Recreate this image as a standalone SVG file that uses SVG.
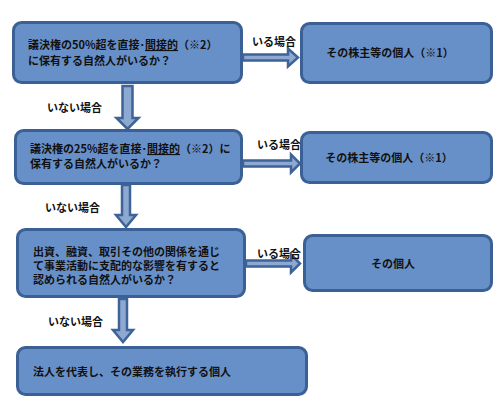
<svg xmlns="http://www.w3.org/2000/svg" width="499" height="409" viewBox="0 0 499 409">
<style>
.box{fill:#6890c8;stroke:#3b6096;stroke-width:3}
.arr{fill:#8ea9d1;stroke:#3d6398;stroke-width:2.5;stroke-linejoin:miter}
text{font-family:"Noto Sans CJK JP","Noto Sans",sans-serif;font-size:11px;font-weight:bold;fill:#111}
.u{text-decoration:underline}
</style>
<rect width="499" height="409" fill="#fff"/>
<g id="connectors">
<polygon class="arr" points="243,54.5 288,54.5 288,48.5 298,57.5 288,66.5 288,60.5 243,60.5"/>
<polygon class="arr" points="243,160.5 291,160.5 291,154.5 300,163.5 291,172.5 291,166.5 243,166.5"/>
<polygon class="arr" points="246,260.5 291,260.5 291,254.5 300,263.5 291,272.5 291,266.5 246,266.5"/>
<polygon class="arr" points="122.5,86 132.5,86 132.5,118 138.5,118 127.5,129 116.5,118 122.5,118"/>
<polygon class="arr" points="122,185 130,185 130,215 136,215 126,227 116,215 122,215"/>
<polygon class="arr" points="119,299 127,299 127,330 133,330 123,342 113,330 119,330"/>
<text x="252" y="46">いる場合</text>
<text x="257" y="149">いる場合</text>
<text x="257" y="258">いる場合</text>
<text x="47" y="112">いない場合</text>
<text x="45" y="212">いない場合</text>
<text x="48" y="326">いない場合</text>
</g>
<g id="q1">
<rect class="box" x="13.5" y="22.5" width="228" height="60" rx="8"/>
<text x="28" y="49">議決権の50%超を直接･<tspan class="u">間接的</tspan>（※2）</text>
<text x="28" y="65">に保有する自然人がいるか？</text>
</g>
<g id="a1">
<rect class="box" x="301.5" y="23.5" width="190" height="59" rx="8"/>
<text x="390" y="57" text-anchor="middle">その株主等の個人（※1）</text>
</g>
<g id="q2">
<rect class="box" x="15.5" y="130.5" width="226" height="53" rx="8"/>
<text x="30" y="153">議決権の25%超を直接･<tspan class="u">間接的</tspan>（※2）に</text>
<text x="30" y="168">保有する自然人がいるか？</text>
</g>
<g id="a2">
<rect class="box" x="301.5" y="132.5" width="190" height="50" rx="8"/>
<text x="389" y="162" text-anchor="middle">その株主等の個人（※1）</text>
</g>
<g id="q3">
<rect class="box" x="17.5" y="229.5" width="227" height="67" rx="8"/>
<text x="33" y="255.5">出資、融資、取引その他の関係を通じ</text>
<text x="33" y="269.5">て事業活動に支配的な影響を有すると</text>
<text x="33" y="283.5">認められる自然人がいるか？</text>
</g>
<g id="a3">
<rect class="box" x="304.5" y="235.5" width="187" height="55" rx="8"/>
<text x="393" y="268" text-anchor="middle">その個人</text>
</g>
<g id="r4">
<rect class="box" x="17.5" y="347.5" width="289" height="47" rx="8"/>
<text x="33" y="376">法人を代表し、その業務を執行する個人</text>
</g>
</svg>
